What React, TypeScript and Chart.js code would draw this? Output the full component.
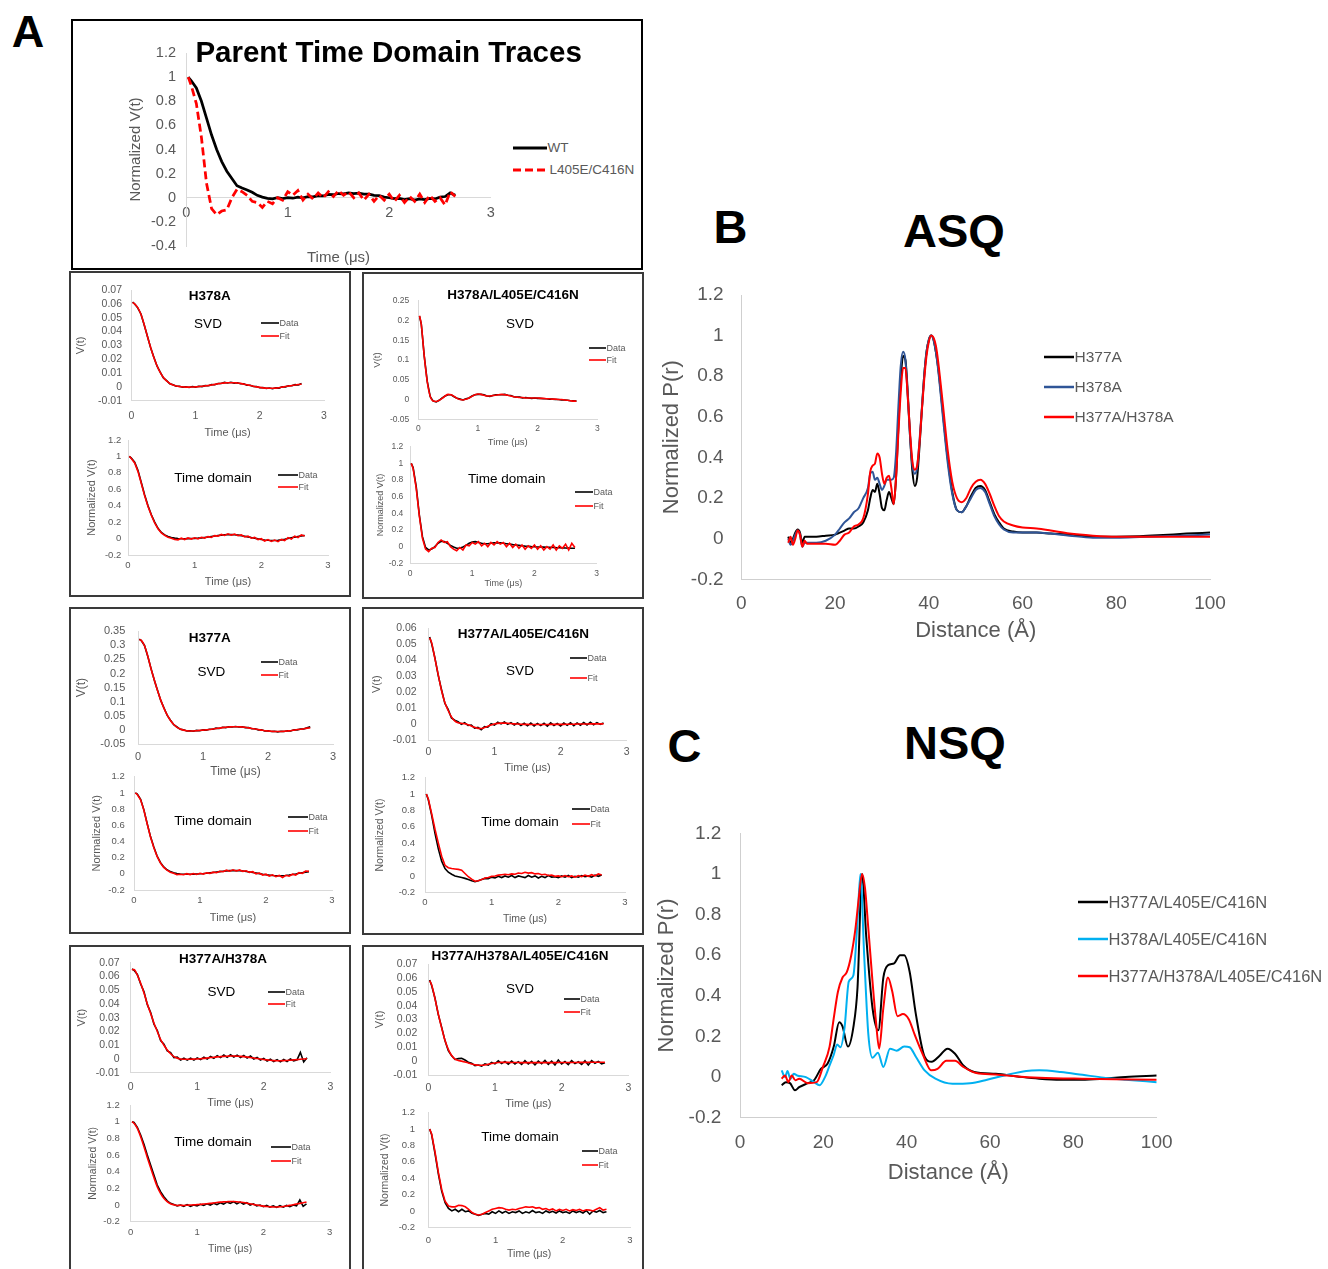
import React, { useEffect, useRef } from "react";
import { Chart, registerables } from "chart.js";

Chart.register(...registerables);

const FONT = "'Liberation Sans', Arial, Helvetica, sans-serif";
const GRAY = "#595959";
const AXIS = "#d9d9d9";
const RED = "#ff0000";
const BLACK = "#000000";
const NAVY = "#2f5597";
const CYAN = "#00b0f0";

Chart.defaults.font.family = FONT;

// ---------- shared time grid (μs) ----------
const tSmall = [
  0.02, 0.05, 0.1, 0.15, 0.2, 0.25, 0.3, 0.35, 0.4, 0.45,
  0.5, 0.55, 0.6, 0.65, 0.7, 0.75, 0.8, 0.85, 0.9, 0.95,
  1.0, 1.05, 1.1, 1.15, 1.2, 1.25, 1.3, 1.35, 1.4, 1.45,
  1.5, 1.55, 1.6, 1.65, 1.7, 1.75, 1.8, 1.85, 1.9, 1.95,
  2.0, 2.05, 2.1, 2.15, 2.2, 2.25, 2.3, 2.35, 2.4, 2.45,
  2.5, 2.55, 2.6, 2.65,
];

// ---------- Parent time domain traces ----------
const parentWT = [
  1.0, 0.97, 0.91, 0.8, 0.66, 0.52, 0.4, 0.3, 0.22, 0.16,
  0.1, 0.08, 0.065, 0.045, 0.02, 0.005, -0.005, -0.01, 0.0, -0.008,
  0.0, -0.004, 0.005, 0.0, 0.01, 0.008, 0.018, 0.015, 0.028, 0.025,
  0.035, 0.032, 0.04, 0.035, 0.038, 0.03, 0.03, 0.02, 0.018, 0.005,
  0.0, -0.008, -0.005, -0.015, -0.008, -0.02, -0.01, -0.015, -0.005, -0.01,
  0.005, 0.01, 0.04, 0.02,
];
const parentL405E = [
  1.0, 0.93, 0.78, 0.5, 0.12, -0.09, -0.14, -0.11, -0.1, 0.0,
  0.07, 0.05, 0.02, -0.03, -0.04, -0.08, -0.03, -0.05, 0.0, -0.02,
  0.05, 0.02, 0.06, -0.02, 0.03, -0.01, 0.04, 0.0, 0.05, 0.01,
  0.06, 0.02, 0.05, 0.0, 0.04, -0.02, 0.03, -0.03, 0.02, -0.02,
  0.03, -0.03, 0.02, -0.04, 0.01, -0.03, 0.03, -0.04, 0.02, -0.03,
  0.0, -0.06, 0.05, 0.01,
];

// ---------- H378A ----------
const h378aSvdData = [
  0.0612, 0.0601, 0.0571, 0.0527, 0.0449, 0.0368, 0.0285, 0.0216, 0.0151, 0.0106,
  0.0065, 0.0045, 0.0022, 0.0015, 0.0004, 0.0004, -0.0003, 0.0001, -0.0004, 0.0002,
  -0.0002, 0.0004, 0.0002, 0.0009, 0.0008, 0.0016, 0.0015, 0.0024, 0.0024, 0.0032,
  0.0028, 0.0033, 0.0027, 0.003, 0.0022, 0.0022, 0.0012, 0.0012, 0.0003, 0.0002,
  -0.0006, -0.0005, -0.0012, -0.0008, -0.0013, -0.0007, -0.0009, 0, 0, 0.0008,
  0.0008, 0.0016, 0.0014, 0.0025,
];
const h378aSvdFit = [
  0.061, 0.06, 0.0573, 0.0525, 0.0451, 0.0366, 0.0287, 0.0214, 0.0153, 0.0104,
  0.0067, 0.0043, 0.0024, 0.0013, 0.0006, 0.0002, 0, -0.0002, -0.0002, -0.0001,
  0, 0.0002, 0.0004, 0.0007, 0.001, 0.0014, 0.0018, 0.0022, 0.0026, 0.0029,
  0.003, 0.003, 0.003, 0.0028, 0.0025, 0.002, 0.0015, 0.001, 0.0005, 0,
  -0.0004, -0.0007, -0.0009, -0.001, -0.001, -0.0009, -0.0006, -0.0002, 0.0002, 0.0006,
  0.001, 0.0013, 0.0017, 0.002,
];
const h378aTdData = [
  1.0, 0.98, 0.93, 0.83, 0.68, 0.53, 0.4, 0.29, 0.2, 0.125,
  0.075, 0.045, 0.025, 0.012, 0.005, 0.001, -0.002, -0.002, -0.001, 0,
  0.002, 0.005, 0.009, 0.014, 0.019, 0.025, 0.031, 0.037, 0.042, 0.046,
  0.048, 0.048, 0.046, 0.042, 0.036, 0.029, 0.021, 0.012, 0.004, -0.004,
  -0.011, -0.017, -0.021, -0.023, -0.023, -0.021, -0.016, -0.009, 0, 0.009,
  0.018, 0.026, 0.033, 0.038,
];
const h378aTdFit = [
  1.0, 0.975, 0.92, 0.815, 0.67, 0.52, 0.39, 0.285, 0.19, 0.12,
  0.07, 0.04, 0.015, 0.005, -0.01, -0.015, 0.005, -0.012, 0.008, -0.006,
  0.01, -0.004, 0.015, 0.006, 0.024, 0.015, 0.036, 0.03, 0.05, 0.038,
  0.058, 0.042, 0.055, 0.035, 0.045, 0.02, 0.03, 0.004, 0.014, -0.012,
  -0.002, -0.03, -0.012, -0.035, -0.018, -0.038, -0.01, -0.025, 0.012, -0.005,
  0.03, 0.012, 0.045, 0.03,
];

// ---------- H378A/L405E/C416N ----------
const h378aL405SvdData = [
  0.211, 0.191, 0.109, 0.046, 0.007, -0.004, -0.006, -0.002, 0.004, 0.009,
  0.012, 0.012, 0.007, 0.003, 0.001, -0.001, 0.002, 0.004, 0.009, 0.012,
  0.013, 0.013, 0.012, 0.009, 0.008, 0.01, 0.012, 0.012, 0.012, 0.013,
  0.011, 0.01, 0.007, 0.006, 0.006, 0.004, 0.005, 0.004, 0.003, 0.004,
  0.003, 0.003, 0.002, 0.002, 0.001, 0.001, 0.0, 0.0, -0.001, -0.001,
  -0.002, -0.003, -0.003, -0.004,
];
const h378aL405SvdFit = [
  0.212, 0.19, 0.11, 0.045, 0.008, -0.004, -0.005, -0.002, 0.003, 0.009,
  0.013, 0.012, 0.008, 0.003, 0.0, -0.001, 0.001, 0.004, 0.008, 0.012,
  0.014, 0.013, 0.011, 0.009, 0.009, 0.01, 0.011, 0.012, 0.013, 0.012,
  0.011, 0.009, 0.007, 0.006, 0.005, 0.005, 0.004, 0.004, 0.004, 0.004,
  0.004, 0.003, 0.003, 0.002, 0.002, 0.001, 0.001, 0.0, 0.0, -0.001,
  -0.002, -0.003, -0.004, -0.004,
];
const h378aL405TdData = [
  1.0, 0.95, 0.72, 0.38, 0.12, -0.01, -0.04, -0.03, 0.0, 0.04,
  0.065, 0.06, 0.04, 0.015, -0.005, -0.02, -0.02, -0.005, 0.015, 0.04,
  0.055, 0.06, 0.05, 0.04, 0.035, 0.035, 0.04, 0.045, 0.047, 0.045,
  0.04, 0.035, 0.03, 0.024, 0.02, 0.015, 0.01, 0.006, 0.003, 0.0,
  -0.002, -0.004, -0.005, -0.006, -0.007, -0.008, -0.01, -0.012, -0.013, -0.015,
  -0.017, -0.018, -0.02, -0.02,
];
const h378aL405TdFit = [
  1.0, 0.94, 0.7, 0.37, 0.1, -0.03, -0.06, -0.02, -0.01, 0.05,
  0.08, 0.05, 0.06, 0.0, -0.03, -0.05, -0.01, -0.04, 0.02, 0.01,
  0.05, 0.03, 0.06, 0.01, 0.04, 0.0, 0.05, 0.02, 0.06, 0.03,
  0.05, 0.0, 0.04, -0.01, 0.03, -0.02, 0.02, -0.03, 0.01, -0.02,
  0.02, -0.03, 0.01, -0.04, 0.0, -0.03, 0.02, -0.04, 0.01, -0.02,
  0.03, -0.04, 0.04, -0.01,
];

// ---------- H377A ----------
const h377aSvdData = [
  0.321, 0.316, 0.299, 0.261, 0.218, 0.177, 0.141, 0.105, 0.078, 0.052,
  0.035, 0.019, 0.011, 0.003, 0.001, -0.003, -0.002, -0.004, -0.001, -0.002,
  0.001, 0.0, 0.003, 0.003, 0.007, 0.006, 0.01, 0.009, 0.012, 0.011,
  0.013, 0.011, 0.012, 0.009, 0.009, 0.005, 0.005, 0.001, 0.001, -0.003,
  -0.002, -0.005, -0.004, -0.006, -0.004, -0.005, -0.002, -0.003, 0.001, 0.001,
  0.004, 0.004, 0.008, 0.012,
];
const h377aSvdFit = [
  0.32, 0.317, 0.298, 0.262, 0.217, 0.178, 0.14, 0.106, 0.077, 0.053,
  0.034, 0.02, 0.01, 0.004, 0.0, -0.002, -0.003, -0.003, -0.002, -0.001,
  0.0, 0.001, 0.002, 0.004, 0.006, 0.007, 0.009, 0.01, 0.011, 0.012,
  0.012, 0.012, 0.011, 0.01, 0.008, 0.006, 0.004, 0.002, 0.0, -0.002,
  -0.003, -0.004, -0.005, -0.005, -0.005, -0.004, -0.003, -0.002, 0.0, 0.002,
  0.003, 0.005, 0.007, 0.008,
];
const h377aTdData = [
  1.0, 0.985, 0.92, 0.79, 0.62, 0.46, 0.33, 0.22, 0.14, 0.085,
  0.05, 0.027, 0.013, 0.004, -0.002, -0.005, -0.006, -0.005, -0.004, -0.002,
  0.0, 0.003, 0.007, 0.012, 0.017, 0.022, 0.027, 0.032, 0.036, 0.039,
  0.04, 0.04, 0.038, 0.034, 0.029, 0.023, 0.016, 0.009, 0.002, -0.005,
  -0.011, -0.016, -0.02, -0.023, -0.024, -0.023, -0.02, -0.015, -0.009, -0.002,
  0.006, 0.014, 0.021, 0.027,
];
const h377aTdFit = [
  1.0, 0.98, 0.915, 0.785, 0.615, 0.455, 0.325, 0.215, 0.135, 0.08,
  0.045, 0.02, 0.008, -0.01, -0.005, -0.012, 0.002, -0.01, 0.004, -0.008,
  0.006, -0.003, 0.012, 0.005, 0.02, 0.014, 0.032, 0.025, 0.045, 0.032,
  0.05, 0.036, 0.048, 0.03, 0.038, 0.018, 0.026, 0.0, 0.01, -0.015,
  -0.005, -0.028, -0.012, -0.035, -0.02, -0.045, -0.018, -0.03, -0.005, -0.015,
  0.015, 0.005, 0.035, 0.03,
];

// ---------- H377A/L405E/C416N ----------
const h377aL405SvdData = [
  0.0545, 0.0505, 0.0415, 0.0305, 0.0215, 0.013, 0.0092, 0.0038, 0.0024, 0.0015,
  -0.0002, 0.0009, -0.0009, -0.0006, -0.0026, -0.0021, -0.0035, -0.0016, -0.002, 0.0002,
  -0.0006, 0.0011, 0.0001, 0.0013, -0.0002, 0.0009, -0.0006, 0.0007, -0.0009, 0.0005,
  -0.0011, 0.0006, -0.0012, 0.0004, -0.001, 0.0005, -0.0013, 0.0007, -0.0009, 0.0004,
  -0.0012, 0.0006, -0.0008, 0.0008, -0.001, 0.0007, -0.0007, 0.0009, -0.0006, 0.0011,
  -0.0004, 0.0009, -0.0002, 0.0006,
];
const h377aL405SvdFit = [
  0.054, 0.051, 0.041, 0.031, 0.021, 0.0135, 0.0085, 0.0045, 0.002, 0.0008,
  0.0004, 0.0002, -0.0004, -0.0012, -0.002, -0.0027, -0.0028, -0.0022, -0.0014, -0.0006,
  0.0, 0.0004, 0.0006, 0.0006, 0.0005, 0.0003, 0.0001, 0.0, -0.0001, -0.0002,
  -0.0002, -0.0003, -0.0003, -0.0003, -0.0003, -0.0003, -0.0003, -0.0002, -0.0002, -0.0002,
  -0.0002, -0.0002, -0.0001, -0.0001, -0.0001, 0.0, 0.0, 0.0, 0.0, 0.0001,
  0.0001, 0.0001, 0.0001, 0.0001,
];
const h377aL405TdData = [
  1.0, 0.93, 0.74, 0.52, 0.33, 0.18, 0.09, 0.045, 0.02, 0.0,
  -0.01, -0.02, -0.03, -0.045, -0.06, -0.07, -0.06, -0.045, -0.03, -0.035,
  -0.015, -0.025, -0.005, -0.02, 0.0, -0.015, 0.005, -0.02, 0.0, -0.01,
  -0.02, 0.005, -0.015, 0.0, -0.025, -0.005, -0.02, 0.005, -0.015, -0.01,
  -0.02, 0.0, -0.015, 0.005, -0.02, -0.005, -0.015, 0.005, -0.01, 0.0,
  -0.015, 0.01, -0.005, 0.01,
];
const h377aL405TdFit = [
  1.0, 0.94, 0.76, 0.57, 0.4, 0.24, 0.13, 0.1, 0.09, 0.085,
  0.08, 0.07, 0.03, -0.01, -0.04, -0.065, -0.06, -0.045, -0.025, -0.02,
  -0.005, 0.0, 0.01, 0.015, 0.02, 0.015, 0.025, 0.02, 0.035, 0.03,
  0.045, 0.035, 0.04, 0.025, 0.03, 0.015, 0.02, 0.005, 0.01, -0.005,
  0.0, -0.01, 0.005, -0.01, 0.0, -0.015, 0.005, -0.01, 0.01, -0.005,
  0.015, 0.0, 0.025, 0.01,
];

// ---------- H377A/H378A ----------
const h377aH378aSvdData = [
  0.0655, 0.0645, 0.0615, 0.0545, 0.0488, 0.0395, 0.0338, 0.0252, 0.0207, 0.0133,
  0.0108, 0.0058, 0.0046, 0.001, 0.0013, -0.0008, 0.0005, -0.0009, 0.0006, -0.0008,
  0.0008, -0.0005, 0.0012, 0.0, 0.0018, 0.0005, 0.0024, 0.001, 0.0028, 0.0012,
  0.003, 0.0014, 0.0028, 0.0011, 0.0025, 0.0006, 0.0021, 0.0, 0.0011, -0.0008,
  0.0004, -0.0015, -0.0002, -0.0019, -0.0005, -0.0021, -0.0004, -0.0018, 0.0, -0.0014,
  -0.0006, 0.0048, -0.0022, 0.0008,
];
const h377aH378aSvdFit = [
  0.065, 0.065, 0.061, 0.055, 0.048, 0.04, 0.033, 0.026, 0.02, 0.014,
  0.01, 0.0065, 0.0038, 0.0017, 0.0006, 0.0, -0.0002, -0.0002, -0.0002, -0.0001,
  0.0, 0.0002, 0.0004, 0.0007, 0.001, 0.0012, 0.0015, 0.0017, 0.0019, 0.002,
  0.0021, 0.0021, 0.002, 0.0019, 0.0017, 0.0014, 0.0011, 0.0007, 0.0003, 0.0,
  -0.0004, -0.0007, -0.001, -0.0012, -0.0013, -0.0013, -0.0012, -0.0011, -0.0009, -0.0007,
  -0.0005, -0.0002, 0.0, 0.0002,
];
const h377aH378aTdData = [
  1.0, 0.99, 0.93, 0.84, 0.73, 0.6, 0.48, 0.36, 0.24, 0.16,
  0.1, 0.05, 0.02, 0.005, -0.01, 0.0, -0.015, 0.005, -0.015, 0.0,
  -0.01, 0.008, -0.005, 0.015, 0.0, 0.02, 0.005, 0.028, 0.01, 0.035,
  0.02, 0.04, 0.015, 0.035, 0.01, 0.028, 0.0, 0.015, -0.01, 0.0,
  -0.02, -0.005, -0.025, -0.01, -0.028, -0.008, -0.025, -0.005, -0.02, 0.0,
  -0.01, 0.06, -0.015, 0.015,
];
const h377aH378aTdFit = [
  1.0, 0.98, 0.92, 0.82, 0.7, 0.57, 0.45, 0.33, 0.22, 0.14,
  0.08, 0.04, 0.015, 0.003, -0.005, -0.003, -0.005, -0.002, 0.0, 0.002,
  0.005, 0.008, 0.012, 0.016, 0.02, 0.025, 0.03, 0.035, 0.038, 0.04,
  0.042, 0.042, 0.04, 0.036, 0.03, 0.023, 0.015, 0.008, 0.0, -0.007,
  -0.013, -0.018, -0.021, -0.023, -0.023, -0.021, -0.017, -0.011, -0.004, 0.004,
  0.012, 0.02, 0.028, 0.035,
];

// ---------- H377A/H378A/L405E/C416N ----------
const quadSvdData = [
  0.0585, 0.0545, 0.0455, 0.0335, 0.0245, 0.0148, 0.0075, 0.0038, 0.0012, 0.0018,
  0.002, 0.0008, -0.0008, -0.0015, -0.0032, -0.0028, -0.0036, -0.002, -0.0028, -0.001,
  -0.002, 0.0002, -0.0018, -0.0002, -0.0022, 0.0, -0.002, -0.0004, -0.0024, 0.0003,
  -0.0021, -0.0002, -0.0026, 0.0, -0.0019, 0.0005, -0.0023, 0.0, -0.0027, 0.0008,
  -0.002, -0.0003, -0.0025, 0.0004, -0.0018, -0.0005, -0.0024, 0.0002, -0.0028, 0.0003,
  -0.0015, -0.0002, -0.0019, -0.0012,
];
const quadSvdFit = [
  0.058, 0.055, 0.045, 0.034, 0.024, 0.015, 0.0085, 0.004, 0.0015, 0.0005,
  0.0, -0.0006, -0.0013, -0.002, -0.0026, -0.003, -0.003, -0.0027, -0.0022, -0.0017,
  -0.0013, -0.001, -0.0009, -0.0009, -0.0009, -0.001, -0.001, -0.001, -0.0011, -0.0011,
  -0.0011, -0.0011, -0.0011, -0.0011, -0.0011, -0.0011, -0.0011, -0.0011, -0.0011, -0.001,
  -0.001, -0.001, -0.001, -0.001, -0.001, -0.0009, -0.0009, -0.0009, -0.0009, -0.0008,
  -0.0008, -0.0008, -0.0008, -0.0008,
];
const quadTdData = [
  1.0, 0.93, 0.7, 0.45, 0.24, 0.1, 0.03, 0.0, 0.02, -0.01,
  0.02, -0.01, 0.0, -0.03, -0.04, -0.055, -0.04, -0.03, -0.04, -0.01,
  -0.03, 0.0, -0.025, -0.005, -0.03, -0.01, -0.02, 0.0, -0.03, -0.01,
  -0.025, 0.005, -0.02, -0.01, -0.03, 0.0, -0.02, -0.005, -0.025, 0.0,
  -0.02, -0.01, -0.03, 0.0, -0.02, -0.005, -0.025, 0.005, -0.04, 0.0,
  -0.015, 0.005, -0.02, -0.01,
];
const quadTdFit = [
  1.0, 0.94, 0.72, 0.47, 0.26, 0.12, 0.06, 0.05, 0.05, 0.07,
  0.065, 0.05, 0.02, -0.02, -0.04, -0.05, -0.04, -0.02, 0.0, 0.02,
  0.03, 0.04, 0.035, 0.02, 0.01, 0.02, 0.015, 0.03, 0.04, 0.05,
  0.045, 0.05, 0.035, 0.04, 0.02, 0.03, 0.01, 0.025, 0.0, 0.02,
  0.005, 0.02, 0.0, 0.015, 0.005, 0.02, 0.0, 0.015, 0.01, 0.0,
  0.02, 0.04, 0.01, 0.02,
];

// ---------- B: ASQ distance distributions ----------
const asqDist = [
  10, 10.5, 11, 11.5, 12, 12.5, 13, 13.5, 14, 16,
  18, 20, 21, 22, 23, 24, 25, 26, 27, 27.5,
  28, 28.5, 29, 29.5, 30, 30.5, 31, 31.5, 32, 32.5,
  33, 33.5, 34, 34.5, 35, 35.5, 36, 36.5, 37, 37.5,
  38, 38.5, 39, 39.5, 40, 40.5, 41, 41.5, 42, 43,
  44, 45, 46, 47, 48, 49, 50, 51, 52, 53,
  54, 55, 56, 58, 60, 63, 66, 70, 75, 80,
  85, 90, 95, 100,
];
const asqH377A = [
  0.01, -0.02, 0.0, 0.03, 0.045, 0.03, -0.02, 0.01, 0.01, 0.01,
  0.015, 0.02, 0.03, 0.04, 0.05, 0.05, 0.06, 0.08, 0.14, 0.2,
  0.24, 0.23, 0.27, 0.22, 0.15, 0.14, 0.19, 0.23, 0.2, 0.17,
  0.3, 0.55, 0.78, 0.9, 0.88, 0.72, 0.5, 0.33, 0.26, 0.3,
  0.45, 0.63, 0.8, 0.92, 0.98, 1.0, 0.98, 0.92, 0.84, 0.62,
  0.4, 0.23, 0.14, 0.13, 0.16, 0.21, 0.25, 0.26, 0.24, 0.18,
  0.12, 0.08, 0.05, 0.035, 0.03, 0.03, 0.025, 0.02, 0.01, 0.01,
  0.012, 0.018, 0.025, 0.03,
];
const asqH378A = [
  0.0, -0.03, -0.01, 0.02, 0.04, 0.02, -0.04, -0.02, -0.02, -0.02,
  -0.01, 0.02, 0.05, 0.08, 0.1, 0.13, 0.15, 0.2, 0.25, 0.32,
  0.33, 0.29, 0.3, 0.27, 0.24, 0.26, 0.29, 0.29, 0.29, 0.3,
  0.42, 0.65, 0.85, 0.92, 0.88, 0.7, 0.5, 0.36, 0.32, 0.35,
  0.48, 0.64, 0.8, 0.92, 0.98, 1.0, 0.98, 0.92, 0.83, 0.6,
  0.38, 0.22, 0.14, 0.13, 0.16, 0.2, 0.24, 0.25, 0.23, 0.17,
  0.11, 0.07, 0.045, 0.03, 0.03, 0.03, 0.025, 0.015, 0.005, 0.005,
  0.008, 0.012, 0.016, 0.02,
];
const asqH377AH378A = [
  -0.02, 0.01, -0.03, 0.0, 0.04, 0.02, -0.04, -0.01, -0.025, -0.025,
  -0.025, -0.03, -0.01, 0.02, 0.03, 0.06, 0.07, 0.1, 0.22, 0.33,
  0.36, 0.37, 0.42, 0.4, 0.32, 0.27, 0.3, 0.31, 0.25, 0.17,
  0.3, 0.52, 0.72, 0.84, 0.84, 0.7, 0.52, 0.38, 0.34, 0.36,
  0.47, 0.63, 0.78, 0.9, 0.97, 1.0, 0.99, 0.95, 0.87, 0.66,
  0.44, 0.28, 0.2, 0.18, 0.2, 0.25, 0.28, 0.29, 0.27, 0.22,
  0.16, 0.11, 0.085, 0.065, 0.055, 0.05, 0.04, 0.025, 0.015, 0.01,
  0.01, 0.01, 0.01, 0.01,
];

// ---------- C: NSQ distance distributions ----------
const nsqDistH377AL = [
  10, 11, 12, 13.2, 14.2, 16.3, 17.8, 19.4, 21, 22.5,
  23.8, 24.6, 25.9, 27.2, 28.2, 29.3, 30.3, 31.8, 33.2, 34.4,
  35.5, 37, 38.4, 39.4, 40.7, 42.2, 44.3, 46, 47.9, 49.8,
  51.6, 53.6, 56.2, 61.4, 66.6, 71.8, 77, 82, 87.3, 92.5,
  100,
];
const nsqH377AL = [
  -0.04, -0.025, -0.03, -0.065, -0.05, -0.03, -0.015, 0.04, 0.065, 0.15,
  0.27, 0.25, 0.15, 0.245, 0.44, 1.0, 0.69, 0.34, 0.23, 0.49,
  0.55, 0.56, 0.6, 0.6, 0.52, 0.31, 0.1, 0.075, 0.105, 0.14,
  0.115, 0.057, 0.025, 0.016, 0.003, -0.008, -0.013, -0.013, -0.008, 0.0,
  0.008,
];
const nsqDistH378AL = [
  10, 10.8, 11.4, 12.1, 12.9, 13.7, 15.8, 17.8, 19.1, 20.4,
  21.5, 22.5, 23.3, 24.1, 25.1, 26.1, 27.2, 28.2, 28.9, 29.8,
  30.8, 31.8, 33.1, 34.4, 36, 37.6, 39.4, 40.7, 42.2, 44.3,
  46.9, 51, 55.2, 59.3, 63.5, 68.7, 71.8, 77, 82.2, 87.3,
  92.5, 100,
];
const nsqH378AL = [
  0.033, 0.0, 0.03, -0.01, 0.016, 0.008, 0.0, -0.025, -0.04, 0.0,
  0.057, 0.11, 0.16, 0.147, 0.245, 0.47, 0.5, 0.77, 1.0, 0.6,
  0.21, 0.095, 0.12, 0.05, 0.14, 0.13, 0.15, 0.147, 0.1, 0.033,
  -0.008, -0.033, -0.03, -0.013, 0.008, 0.03, 0.033, 0.025, 0.011, -0.003,
  -0.013, -0.025,
];
const nsqDistQuad = [
  10, 10.8, 11.6, 12.4, 13.3, 14.2, 16.3, 18.4, 19.9, 21.5,
  22.5, 23.5, 24.6, 25.6, 26.7, 27.7, 28.5, 29.3, 30, 30.8,
  31.8, 32.6, 33.4, 34.4, 35.5, 36.5, 37.8, 39.1, 40.5, 41.9,
  43.8, 45.9, 47.4, 49.5, 51.6, 53.6, 56.7, 61.4, 66.6, 71.8,
  82, 100,
];
const nsqQuad = [
  -0.008, 0.008, -0.025, 0.008, -0.016, -0.008, -0.03, -0.025, 0.05, 0.15,
  0.29, 0.42, 0.49, 0.515, 0.6, 0.73, 0.88, 1.0, 0.93, 0.73,
  0.47, 0.28, 0.14, 0.34, 0.49, 0.425, 0.3, 0.31, 0.285, 0.21,
  0.115, 0.033, 0.04, 0.08, 0.08, 0.05, 0.02, 0.013, 0.003, -0.003,
  -0.008, -0.013,
];

// ---------- chart component ----------
type Series = {
  label: string;
  x: number[];
  y: number[];
  color: string;
  width: number;
  dash?: number[];
  smooth?: boolean;
  order: number;
};
type Spec = {
  series: Series[];
  l: number; r: number; t: number; b: number;
  xMin: number; xMax: number; xStep: number;
  yMin: number; yMax: number; yStep: number;
  xTitle: string; yTitle: string;
  yTitleX: number; xTitleY: number;
  xLabelY: number; yLabelR: number;
  tickFs: number; titleFs: number;
  padTop: number; padRight: number;
  axisColor?: string;
  zeroAxis?: boolean;
};

const fmt = (v: any) => String(parseFloat(Number(v).toFixed(4)));

function LineChart({ spec }: { spec: Spec }) {
  const ref = useRef<HTMLCanvasElement | null>(null);
  const left = Math.round(spec.yTitleX - spec.titleFs * 0.6 - 4);
  const top = Math.round(spec.t - spec.padTop);
  const W = Math.ceil(spec.r + spec.padRight - left);
  const H = Math.ceil(spec.xTitleY + spec.titleFs * 0.6 + 4 - top);
  const yAxisW = spec.l - left;
  const xAxisH = H - (spec.b - top);
  const padRight = W - (spec.r - left);
  const padTop = spec.t - top;

  useEffect(() => {
    const c = ref.current;
    if (!c) return;
    const tickFont = { family: FONT, size: spec.tickFs };
    const titleFont = { family: FONT, size: spec.titleFs };
    const axisColor = spec.axisColor || AXIS;
    let xPad = spec.xLabelY - spec.b - 0.6 * spec.tickFs;
    if (spec.zeroAxis) {
      const y0 = spec.b - ((0 - spec.yMin) / (spec.yMax - spec.yMin)) * (spec.b - spec.t);
      xPad = spec.xLabelY - y0 - 0.6 * spec.tickFs;
    }
    const scales: any = {
      x: {
        type: "linear",
        min: spec.xMin,
        max: spec.xMax,
        position: spec.zeroAxis ? { y: 0 } : "bottom",
        grid: { display: false, drawTicks: false },
        border: { display: true, color: axisColor, width: 1 },
        ticks: {
          stepSize: spec.xStep,
          color: GRAY,
          font: tickFont,
          padding: xPad,
          maxRotation: 0,
          autoSkip: false,
          callback: fmt,
        },
        title: spec.zeroAxis
          ? { display: false }
          : { display: true, text: spec.xTitle, color: GRAY, font: titleFont, padding: { top: 4, bottom: 4 } },
      },
      y: {
        type: "linear",
        min: spec.yMin,
        max: spec.yMax,
        position: "left",
        grid: { display: false, drawTicks: false },
        border: { display: true, color: axisColor, width: 1 },
        ticks: {
          stepSize: spec.yStep,
          color: GRAY,
          font: tickFont,
          padding: spec.l - spec.yLabelR,
          autoSkip: false,
          callback: fmt,
        },
        title: { display: true, text: spec.yTitle, color: GRAY, font: titleFont, padding: { top: 4, bottom: 4 } },
        afterFit: (s: any) => {
          s.width = yAxisW;
          s.paddingTop = 0;
          s.paddingBottom = 0;
        },
      },
    };
    if (spec.zeroAxis) {
      scales.xt = {
        type: "linear",
        min: spec.xMin,
        max: spec.xMax,
        position: "bottom",
        grid: { display: false, drawTicks: false },
        border: { display: false },
        ticks: { display: false },
        title: { display: true, text: spec.xTitle, color: GRAY, font: titleFont, padding: { top: 4, bottom: 4 } },
        afterFit: (s: any) => {
          s.height = xAxisH;
        },
      };
    } else {
      scales.x.afterFit = (s: any) => {
        s.height = xAxisH;
      };
    }
    const pad = { top: padTop, right: padRight, left: 0, bottom: 0 };
    const chart = new Chart(c, {
      type: "line",
      data: {
        datasets: spec.series.map((s) => ({
          label: s.label,
          data: s.x.map((xv, i) => ({ x: xv, y: s.y[i] })),
          borderColor: s.color,
          backgroundColor: s.color,
          borderWidth: s.width,
          borderDash: s.dash || [],
          pointRadius: 0,
          fill: false,
          tension: 0,
          cubicInterpolationMode: s.smooth ? "monotone" : "default",
          order: s.order,
          xAxisID: "x",
          yAxisID: "y",
        })),
      },
      options: {
        responsive: false,
        animation: false,
        events: [],
        layout: { padding: { ...pad } },
        plugins: { legend: { display: false }, tooltip: { enabled: false }, title: { display: false } },
        scales,
      } as any,
    });
    // pin the plot area exactly onto the intended pixel rectangle
    const wantTop = padTop;
    const wantRight = spec.r - left;
    const wantLeft = yAxisW;
    const wantBottom = spec.b - top;
    for (let k = 0; k < 6; k++) {
      const ca = chart.chartArea;
      const dt = ca.top - wantTop;
      const dr = wantRight - ca.right;
      const dl = ca.left - wantLeft;
      const db = wantBottom - ca.bottom;
      if (Math.abs(dt) < 0.2 && Math.abs(dr) < 0.2 && Math.abs(dl) < 0.2 && Math.abs(db) < 0.2) break;
      pad.top -= dt;
      pad.right -= dr;
      pad.left -= dl;
      pad.bottom -= db;
      (chart.options as any).layout.padding = { ...pad };
      chart.update();
    }
    return () => chart.destroy();
  }, []);

  return (
    <canvas
      ref={ref}
      width={W}
      height={H}
      style={{ position: "absolute", left, top, width: W, height: H }}
    />
  );
}

// ---------- HTML helpers ----------
function Txt(props: {
  x: number; y: number; s: string; size: number; bold?: boolean; color?: string; align?: "center" | "left";
}) {
  const { x, y, s, size, bold, color, align } = props;
  return (
    <div
      style={{
        position: "absolute",
        left: x,
        top: y,
        transform: align === "left" ? "translate(0,-50%)" : "translate(-50%,-50%)",
        fontSize: size,
        fontWeight: bold ? 700 : 400,
        color: color || "#000",
        lineHeight: 1,
        whiteSpace: "nowrap",
        fontFamily: FONT,
      }}
    >
      {s}
    </div>
  );
}

function Leg(props: { x1: number; x2: number; y: number; color: string; w: number; dash?: string; text: string; size: number }) {
  const { x1, x2, y, color, w, dash, text, size } = props;
  return (
    <>
      <svg
        style={{ position: "absolute", left: x1, top: y - 5, overflow: "visible" }}
        width={x2 - x1}
        height={10}
      >
        <line x1={0} y1={5} x2={x2 - x1} y2={5} stroke={color} strokeWidth={w} strokeDasharray={dash} />
      </svg>
      <Txt x={x2 + 0.5} y={y} s={text} size={size} color={GRAY} align="left" />
    </>
  );
}

function Box(props: { x: number; y: number; w: number; h: number; bw: number; color: string }) {
  return (
    <div
      style={{
        position: "absolute",
        left: props.x,
        top: props.y,
        width: props.w,
        height: props.h,
        border: `${props.bw}px solid ${props.color}`,
        boxSizing: "border-box",
      }}
    />
  );
}

const TIME = "Time (μs)";

function dataFit(data: number[], fit: number[], fitSmooth: boolean): Series[] {
  return [
    { label: "Data", x: tSmall, y: data, color: BLACK, width: 1.6, order: 1 },
    { label: "Fit", x: tSmall, y: fit, color: RED, width: 1.6, order: 0, smooth: fitSmooth },
  ];
}

function smallSpec(
  series: Series[],
  g: {
    l: number; r: number; t: number; b: number;
    yMin: number; yMax: number; yStep: number; yTitle: string;
    yTitleX: number; xTitleY: number; xLabelY: number; yLabelR: number;
    tickFs: number; titleFs: number;
  }
): Spec {
  return {
    series,
    ...g,
    xMin: 0, xMax: 3, xStep: 1,
    xTitle: TIME,
    padTop: 10, padRight: 12,
  };
}

const SVD_SIZE = 13.5;
const LEG_SIZE = 9;

export default function App() {
  const smalls: Spec[] = [
    smallSpec(dataFit(h378aSvdData, h378aSvdFit, true), {
      l: 131.3, r: 324, t: 290, b: 400.7, yMin: -0.01, yMax: 0.07, yStep: 0.01, yTitle: "V(t)",
      yTitleX: 81, xTitleY: 433, xLabelY: 415.7, yLabelR: 122, tickFs: 10.5, titleFs: 11,
    }),
    smallSpec(dataFit(h378aTdData, h378aTdFit, false), {
      l: 128, r: 328, t: 440, b: 555, yMin: -0.2, yMax: 1.2, yStep: 0.2, yTitle: "Normalized V(t)",
      yTitleX: 91.3, xTitleY: 581.7, xLabelY: 565, yLabelR: 121.3, tickFs: 9.5, titleFs: 11,
    }),
    smallSpec(dataFit(h378aL405SvdData, h378aL405SvdFit, true), {
      l: 418.3, r: 597.3, t: 300.7, b: 419.3, yMin: -0.05, yMax: 0.25, yStep: 0.05, yTitle: "V(t)",
      yTitleX: 378, xTitleY: 441.7, xLabelY: 429, yLabelR: 409.3, tickFs: 8.5, titleFs: 9.5,
    }),
    smallSpec(dataFit(h378aL405TdData, h378aL405TdFit, false), {
      l: 410, r: 596.7, t: 446.7, b: 563.3, yMin: -0.2, yMax: 1.2, yStep: 0.2, yTitle: "Normalized V(t)",
      yTitleX: 380, xTitleY: 583.3, xLabelY: 573.3, yLabelR: 403.3, tickFs: 8.5, titleFs: 9,
    }),
    smallSpec(dataFit(h377aSvdData, h377aSvdFit, true), {
      l: 138, r: 333, t: 631, b: 744.3, yMin: -0.05, yMax: 0.35, yStep: 0.05, yTitle: "V(t)",
      yTitleX: 81.3, xTitleY: 771.7, xLabelY: 757.3, yLabelR: 125.3, tickFs: 11, titleFs: 12,
    }),
    smallSpec(dataFit(h377aTdData, h377aTdFit, false), {
      l: 134, r: 332, t: 776.7, b: 890, yMin: -0.2, yMax: 1.2, yStep: 0.2, yTitle: "Normalized V(t)",
      yTitleX: 96.3, xTitleY: 918.3, xLabelY: 900, yLabelR: 124.7, tickFs: 9.5, titleFs: 11,
    }),
    smallSpec(dataFit(h377aL405SvdData, h377aL405SvdFit, true), {
      l: 428.3, r: 626.7, t: 628.3, b: 740, yMin: -0.01, yMax: 0.06, yStep: 0.01, yTitle: "V(t)",
      yTitleX: 376.7, xTitleY: 768.3, xLabelY: 751.7, yLabelR: 416.7, tickFs: 10.5, titleFs: 11,
    }),
    smallSpec(dataFit(h377aL405TdData, h377aL405TdFit, false), {
      l: 425, r: 625, t: 777.7, b: 892.3, yMin: -0.2, yMax: 1.2, yStep: 0.2, yTitle: "Normalized V(t)",
      yTitleX: 380, xTitleY: 918.3, xLabelY: 902.7, yLabelR: 415, tickFs: 9.5, titleFs: 10.5,
    }),
    smallSpec(dataFit(h377aH378aSvdData, h377aH378aSvdFit, true), {
      l: 130.7, r: 330.3, t: 962.7, b: 1072.7, yMin: -0.01, yMax: 0.07, yStep: 0.01, yTitle: "V(t)",
      yTitleX: 81.3, xTitleY: 1102.7, xLabelY: 1086.7, yLabelR: 119.7, tickFs: 10.5, titleFs: 11,
    }),
    smallSpec(dataFit(h377aH378aTdData, h377aH378aTdFit, true), {
      l: 130.7, r: 329.7, t: 1105, b: 1221.7, yMin: -0.2, yMax: 1.2, yStep: 0.2, yTitle: "Normalized V(t)",
      yTitleX: 93, xTitleY: 1248.3, xLabelY: 1232.3, yLabelR: 119.7, tickFs: 9.5, titleFs: 10.5,
    }),
    smallSpec(dataFit(quadSvdData, quadSvdFit, true), {
      l: 428.3, r: 628.3, t: 964, b: 1075, yMin: -0.01, yMax: 0.07, yStep: 0.01, yTitle: "V(t)",
      yTitleX: 380, xTitleY: 1104, xLabelY: 1088.3, yLabelR: 417.3, tickFs: 10.5, titleFs: 11,
    }),
    smallSpec(dataFit(quadTdData, quadTdFit, false), {
      l: 428.3, r: 630, t: 1112.7, b: 1227.3, yMin: -0.2, yMax: 1.2, yStep: 0.2, yTitle: "Normalized V(t)",
      yTitleX: 385, xTitleY: 1253.3, xLabelY: 1240, yLabelR: 415, tickFs: 9.5, titleFs: 10.5,
    }),
  ];

  const parentSpec: Spec = {
    series: [
      { label: "WT", x: tSmall, y: parentWT, color: BLACK, width: 2.75, order: 1 },
      { label: "L405E/C416N", x: tSmall, y: parentL405E, color: RED, width: 2.75, dash: [8, 4], order: 0 },
    ],
    l: 186.2, r: 490.8, t: 53, b: 246,
    xMin: 0, xMax: 3, xStep: 1,
    yMin: -0.4, yMax: 1.2, yStep: 0.2,
    xTitle: TIME, yTitle: "Normalized V(t)",
    yTitleX: 136, xTitleY: 258, xLabelY: 212.7, yLabelR: 176,
    tickFs: 14.5, titleFs: 15,
    padTop: 14, padRight: 14,
    zeroAxis: true,
  };

  const asqSpec: Spec = {
    series: [
      { label: "H377A", x: asqDist, y: asqH377A, color: BLACK, width: 2, order: 2, smooth: true },
      { label: "H378A", x: asqDist, y: asqH378A, color: NAVY, width: 2, order: 1, smooth: true },
      { label: "H377A/H378A", x: asqDist, y: asqH377AH378A, color: RED, width: 2, order: 0, smooth: true },
    ],
    l: 741.4, r: 1210, t: 295, b: 579.3,
    xMin: 0, xMax: 100, xStep: 20,
    yMin: -0.2, yMax: 1.2, yStep: 0.2,
    xTitle: "Distance (Å)", yTitle: "Normalized P(r)",
    yTitleX: 672.5, xTitleY: 630, xLabelY: 603.3, yLabelR: 723.6,
    tickFs: 19, titleFs: 22,
    padTop: 18, padRight: 30,
    axisColor: "#cfcfcf",
  };

  const nsqSpec: Spec = {
    series: [
      { label: "H377A/L405E/C416N", x: nsqDistH377AL, y: nsqH377AL, color: BLACK, width: 2, order: 2, smooth: true },
      { label: "H378A/L405E/C416N", x: nsqDistH378AL, y: nsqH378AL, color: CYAN, width: 2, order: 1, smooth: true },
      { label: "H377A/H378A/L405E/C416N", x: nsqDistQuad, y: nsqQuad, color: RED, width: 2, order: 0, smooth: true },
    ],
    l: 740, r: 1156.7, t: 833.3, b: 1117.7,
    xMin: 0, xMax: 100, xStep: 20,
    yMin: -0.2, yMax: 1.2, yStep: 0.2,
    xTitle: "Distance (Å)", yTitle: "Normalized P(r)",
    yTitleX: 667.3, xTitleY: 1172.7, xLabelY: 1142.7, yLabelR: 721.3,
    tickFs: 19, titleFs: 22,
    padTop: 18, padRight: 30,
    axisColor: "#cfcfcf",
  };

  const BOX = "#3a3a3a";

  return (
    <div
      style={{
        position: "absolute",
        left: 0,
        top: 0,
        width: 1328,
        height: 1269,
        overflow: "hidden",
        background: "#ffffff",
        fontFamily: FONT,
      }}
    >
      {/* panel frames */}
      <Box x={71} y={19} w={572} h={251} bw={2.5} color="#000" />
      <Box x={69} y={271} w={282} h={326} bw={2} color={BOX} />
      <Box x={362} y={272} w={282} h={327} bw={2} color={BOX} />
      <Box x={69} y={607} w={282} h={327} bw={2} color={BOX} />
      <Box x={362} y={607} w={282} h={328} bw={2} color={BOX} />
      <Box x={69} y={945} w={282} h={340} bw={2} color={BOX} />
      <Box x={362} y={945} w={282} h={340} bw={2} color={BOX} />

      {/* charts */}
      <LineChart spec={parentSpec} />
      {smalls.map((s, i) => (
        <LineChart key={i} spec={s} />
      ))}
      <LineChart spec={asqSpec} />
      <LineChart spec={nsqSpec} />

      {/* panel letters and titles */}
      <Txt x={28} y={31} s="A" size={45} bold />
      <Txt x={730.5} y={226} s="B" size={47} bold />
      <Txt x={684.5} y={745} s="C" size={47} bold />
      <Txt x={954} y={230} s="ASQ" size={47} bold />
      <Txt x={955} y={742} s="NSQ" size={47} bold />
      <Txt x={388.6} y={52} s="Parent Time Domain Traces" size={29.5} bold />

      {/* parent legend */}
      <Leg x1={513} x2={547} y={148.3} color={BLACK} w={3} text="WT" size={13.5} />
      <Leg x1={513} x2={549} y={170} color={RED} w={3} dash="8 4" text="L405E/C416N" size={13.5} />

      {/* ASQ legend */}
      <Leg x1={1044} x2={1074} y={357.3} color={BLACK} w={2.5} text="H377A" size={15.5} />
      <Leg x1={1044} x2={1074} y={387.3} color={NAVY} w={2.5} text="H378A" size={15.5} />
      <Leg x1={1044} x2={1074} y={416.7} color={RED} w={2.5} text="H377A/H378A" size={15.5} />

      {/* NSQ legend */}
      <Leg x1={1078} x2={1108} y={901.7} color={BLACK} w={2.5} text="H377A/L405E/C416N" size={16.5} />
      <Leg x1={1078} x2={1108} y={939} color={CYAN} w={2.5} text="H378A/L405E/C416N" size={16.5} />
      <Leg x1={1078} x2={1108} y={975.7} color={RED} w={2.5} text="H377A/H378A/L405E/C416N" size={16.5} />

      {/* Box 1: H378A */}
      <Txt x={209.7} y={295.7} s="H378A" size={13.5} bold />
      <Txt x={208} y={323.5} s="SVD" size={SVD_SIZE} />
      <Leg x1={261} x2={279} y={322.7} color={BLACK} w={1.6} text="Data" size={LEG_SIZE} />
      <Leg x1={261} x2={279} y={335.7} color={RED} w={1.6} text="Fit" size={LEG_SIZE} />
      <Txt x={213} y={478.3} s="Time domain" size={SVD_SIZE} />
      <Leg x1={278} x2={298} y={474.7} color={BLACK} w={1.6} text="Data" size={LEG_SIZE} />
      <Leg x1={278} x2={298} y={487.3} color={RED} w={1.6} text="Fit" size={LEG_SIZE} />

      {/* Box 2: H378A/L405E/C416N */}
      <Txt x={513} y={295} s="H378A/L405E/C416N" size={13.5} bold />
      <Txt x={520} y={324} s="SVD" size={SVD_SIZE} />
      <Leg x1={589} x2={606} y={347.7} color={BLACK} w={1.6} text="Data" size={LEG_SIZE} />
      <Leg x1={589} x2={606} y={360} color={RED} w={1.6} text="Fit" size={LEG_SIZE} />
      <Txt x={506.7} y={479.3} s="Time domain" size={SVD_SIZE} />
      <Leg x1={575} x2={593} y={492.3} color={BLACK} w={1.6} text="Data" size={LEG_SIZE} />
      <Leg x1={575} x2={593} y={505.7} color={RED} w={1.6} text="Fit" size={LEG_SIZE} />

      {/* Box 3: H377A */}
      <Txt x={209.7} y={638.3} s="H377A" size={13.5} bold />
      <Txt x={211.3} y={671.7} s="SVD" size={SVD_SIZE} />
      <Leg x1={261} x2={278} y={662.3} color={BLACK} w={1.6} text="Data" size={LEG_SIZE} />
      <Leg x1={261} x2={278} y={675} color={RED} w={1.6} text="Fit" size={LEG_SIZE} />
      <Txt x={213} y={821} s="Time domain" size={SVD_SIZE} />
      <Leg x1={288} x2={308} y={817} color={BLACK} w={1.6} text="Data" size={LEG_SIZE} />
      <Leg x1={288} x2={308} y={830.7} color={RED} w={1.6} text="Fit" size={LEG_SIZE} />

      {/* Box 4: H377A/L405E/C416N */}
      <Txt x={523.3} y={634.3} s="H377A/L405E/C416N" size={13.5} bold />
      <Txt x={520} y={670.7} s="SVD" size={SVD_SIZE} />
      <Leg x1={570} x2={587} y={657.7} color={BLACK} w={1.6} text="Data" size={LEG_SIZE} />
      <Leg x1={570} x2={587} y={677.7} color={RED} w={1.6} text="Fit" size={LEG_SIZE} />
      <Txt x={520} y={821.7} s="Time domain" size={SVD_SIZE} />
      <Leg x1={572} x2={590} y={809} color={BLACK} w={1.6} text="Data" size={LEG_SIZE} />
      <Leg x1={572} x2={590} y={823.7} color={RED} w={1.6} text="Fit" size={LEG_SIZE} />

      {/* Box 5: H377A/H378A */}
      <Txt x={223} y={959} s="H377A/H378A" size={13.5} bold />
      <Txt x={221.3} y={991.7} s="SVD" size={SVD_SIZE} />
      <Leg x1={268} x2={285} y={991.7} color={BLACK} w={1.6} text="Data" size={LEG_SIZE} />
      <Leg x1={268} x2={285} y={1004.3} color={RED} w={1.6} text="Fit" size={LEG_SIZE} />
      <Txt x={213} y={1141.7} s="Time domain" size={SVD_SIZE} />
      <Leg x1={271} x2={291} y={1146.7} color={BLACK} w={1.6} text="Data" size={LEG_SIZE} />
      <Leg x1={271} x2={291} y={1160.7} color={RED} w={1.6} text="Fit" size={LEG_SIZE} />

      {/* Box 6: H377A/H378A/L405E/C416N */}
      <Txt x={520} y={955.7} s="H377A/H378A/L405E/C416N" size={13.5} bold />
      <Txt x={520} y={989} s="SVD" size={SVD_SIZE} />
      <Leg x1={564} x2={580} y={999.3} color={BLACK} w={1.6} text="Data" size={LEG_SIZE} />
      <Leg x1={564} x2={580} y={1012} color={RED} w={1.6} text="Fit" size={LEG_SIZE} />
      <Txt x={520} y={1136.7} s="Time domain" size={SVD_SIZE} />
      <Leg x1={582} x2={598} y={1151} color={BLACK} w={1.6} text="Data" size={LEG_SIZE} />
      <Leg x1={582} x2={598} y={1165.3} color={RED} w={1.6} text="Fit" size={LEG_SIZE} />
    </div>
  );
}
